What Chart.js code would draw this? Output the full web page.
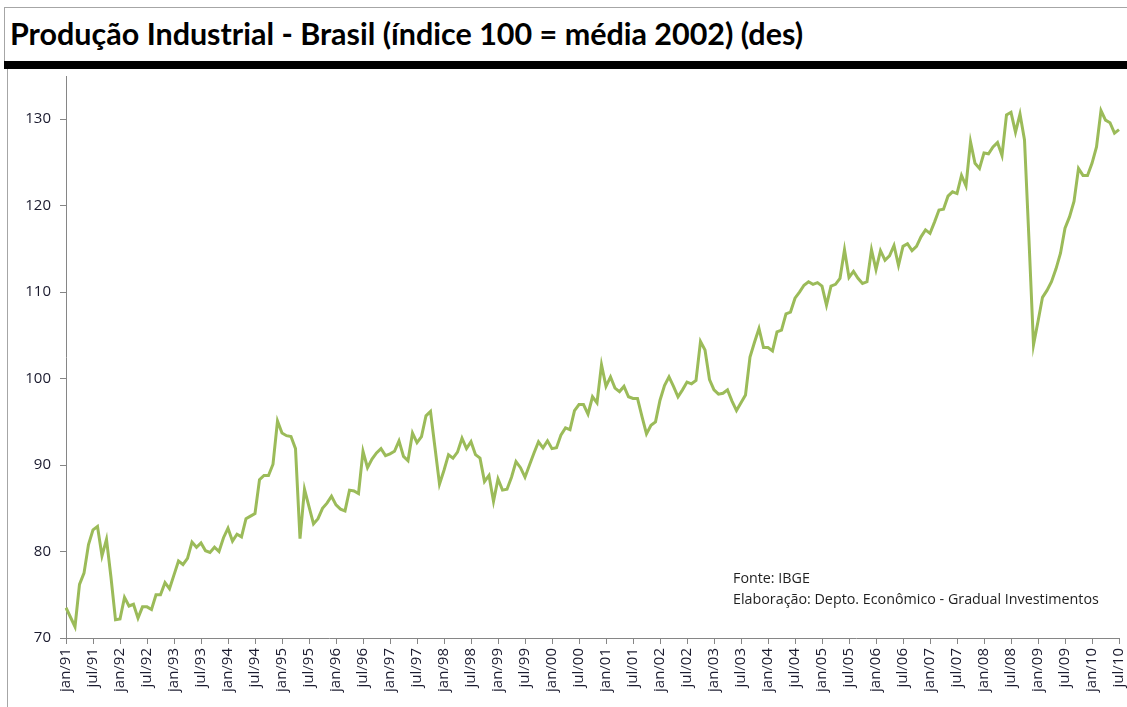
<!DOCTYPE html>
<html><head><meta charset="utf-8">
<script src="https://cdn.jsdelivr.net/npm/chart.js@4.4.0/dist/chart.umd.min.js"></script>
<style>
html,body{margin:0;padding:0;background:#fff;width:1127px;height:707px;overflow:hidden;position:relative;font-family:'Open Sans',sans-serif}
#frameTop{position:absolute;left:4px;top:7px;width:1130px;height:56px;border-top:1px solid #a6a6a6;border-left:1px solid #a6a6a6}
#title{position:absolute;left:10px;top:15px;font-family:Lato,sans-serif;font-weight:700;font-size:31px;line-height:36px;white-space:nowrap;transform-origin:0 0;color:#000}
#bar{position:absolute;left:4px;top:61px;width:1127px;height:8px;background:#000}
#frameLow{position:absolute;left:7px;top:69px;width:1px;height:640px;background:#a6a6a6}
#wrap{position:absolute;left:8px;top:70px;width:1119px;height:637px}
.note{position:absolute;left:733px;font-size:14.3px;line-height:20px;color:#1f1f1f;white-space:nowrap}
</style></head>
<body>
<div id="frameTop"></div>
<div id="title">Produção Industrial - Brasil (índice 100 = média 2002) (des)</div>
<div id="bar"></div>
<div id="frameLow"></div>
<div id="wrap"><canvas id="c"></canvas></div>
<div class="note" style="top:568px">Fonte: IBGE</div>
<div class="note" style="top:589px">Elaboração: Depto. Econômico - Gradual Investimentos</div>
<script>
const monthNames = ["jan","fev","mar","abr","mai","jun","jul","ago","set","out","nov","dez"];
const years = ["91","92","93","94","95","96","97","98","99","00","01","02","03","04","05","06","07","08","09","10"];
const lastMonthOf2010 = 7; // jan..jul/10
const yTickValues = [70, 80, 90, 100, 110, 120, 130];

const producao = [
73.5,72.4,71.3,76.2,77.5,80.8,82.5,82.9,79.5,81.4,77.0,72.1,
72.2,74.7,73.7,73.9,72.3,73.6,73.6,73.3,75.0,75.0,76.4,75.7,
77.3,78.9,78.5,79.2,81.1,80.5,81.0,80.1,79.9,80.5,80.0,81.6,
82.7,81.2,82.0,81.7,83.8,84.1,84.4,88.3,88.8,88.8,90.1,95.1,
93.7,93.4,93.3,91.9,81.5,87.2,85.2,83.2,83.8,85.0,85.6,86.4,
85.4,84.9,84.7,87.1,87.0,86.7,91.6,89.7,90.7,91.4,91.9,91.1,
91.3,91.6,92.8,91.0,90.5,93.7,92.6,93.3,95.7,96.2,92.0,87.8,
89.4,91.2,90.8,91.5,93.1,91.9,92.7,91.2,90.8,88.1,88.8,85.8,
88.4,87.1,87.2,88.6,90.4,89.7,88.6,90.0,91.4,92.7,92.0,92.8,
91.9,92.0,93.5,94.3,94.1,96.3,97.0,97.0,95.9,97.9,97.2,101.6,
99.1,100.2,98.9,98.5,99.1,97.9,97.7,97.7,95.6,93.6,94.6,95.0,
97.5,99.2,100.2,99.1,97.9,98.7,99.6,99.4,99.8,104.3,103.3,99.9,
98.7,98.2,98.3,98.7,97.4,96.3,97.2,98.1,102.5,104.2,105.8,103.6,
103.6,103.2,105.4,105.6,107.5,107.7,109.3,110.0,110.8,111.2,110.9,111.1,
110.7,108.5,110.7,110.9,111.6,114.9,111.7,112.4,111.6,111.0,111.2,114.9,
112.6,114.8,113.7,114.2,115.4,113.1,115.3,115.6,114.8,115.3,116.4,117.2,
116.8,118.1,119.5,119.6,121.1,121.6,121.4,123.5,122.3,127.4,124.9,124.3,
126.1,126.0,126.8,127.3,125.8,130.5,130.8,128.5,130.6,127.6,116.0,103.9,
106.6,109.4,110.2,111.2,112.7,114.5,117.4,118.7,120.5,124.3,123.5,123.5,
124.9,126.8,131.0,129.9,129.6,128.4,128.8
];

const categories = [];
years.forEach((y, yi) => {
  const n = (yi === years.length - 1) ? lastMonthOf2010 : 12;
  for (let m = 0; m < n; m++) categories.push(monthNames[m] + "/" + y);
});

// fit title width
const t = document.getElementById('title');
const w = t.getBoundingClientRect().width;
t.style.transform = 'scaleX(' + (793 / w) + ')';

const tickFont = {family: "'Open Sans', sans-serif", size: 15};
new Chart(document.getElementById('c'), {
  type: 'line',
  data: {
    labels: categories,
    datasets: [{
      data: producao,
      borderColor: '#9bbb59',
      borderWidth: 3,
      pointRadius: 0,
      tension: 0,
      fill: false
    }]
  },
  options: {
    responsive: true,
    maintainAspectRatio: false,
    animation: false,
    layout: {padding: {top: 6, right: 8, left: 0, bottom: 0}},
    plugins: {legend: {display: false}, tooltip: {enabled: false}},
    scales: {
      x: {
        type: 'category',
        offset: false,
        afterBuildTicks: (axis) => { axis.ticks = axis.ticks.filter(tk => tk.value % 6 === 0); },
        afterFit: (scale) => { scale.height = 69; scale.paddingLeft = 0; scale.paddingRight = 0; },
        grid: {drawOnChartArea: false, drawTicks: true, tickLength: 6, color: '#868686', tickColor: '#868686'},
        border: {display: true, color: '#868686', width: 1},
        ticks: {
          autoSkip: false, minRotation: 90, maxRotation: 90, padding: 4,
          color: '#1a1a2e', font: tickFont,
          callback: function(v) { return this.getLabelForValue(v); }
        }
      },
      y: {
        min: 70, max: 135,
        afterBuildTicks: (axis) => { axis.ticks = yTickValues.map(v => ({value: v})); },
        afterFit: (scale) => { scale.width = 58; scale.paddingTop = 0; scale.paddingBottom = 0; },
        grid: {drawOnChartArea: false, drawTicks: true, tickLength: 6, color: '#868686', tickColor: '#868686'},
        border: {display: true, color: '#868686', width: 1},
        ticks: {padding: 9, color: '#1a1a2e', font: tickFont}
      }
    }
  }
});
</script>
</body></html>
